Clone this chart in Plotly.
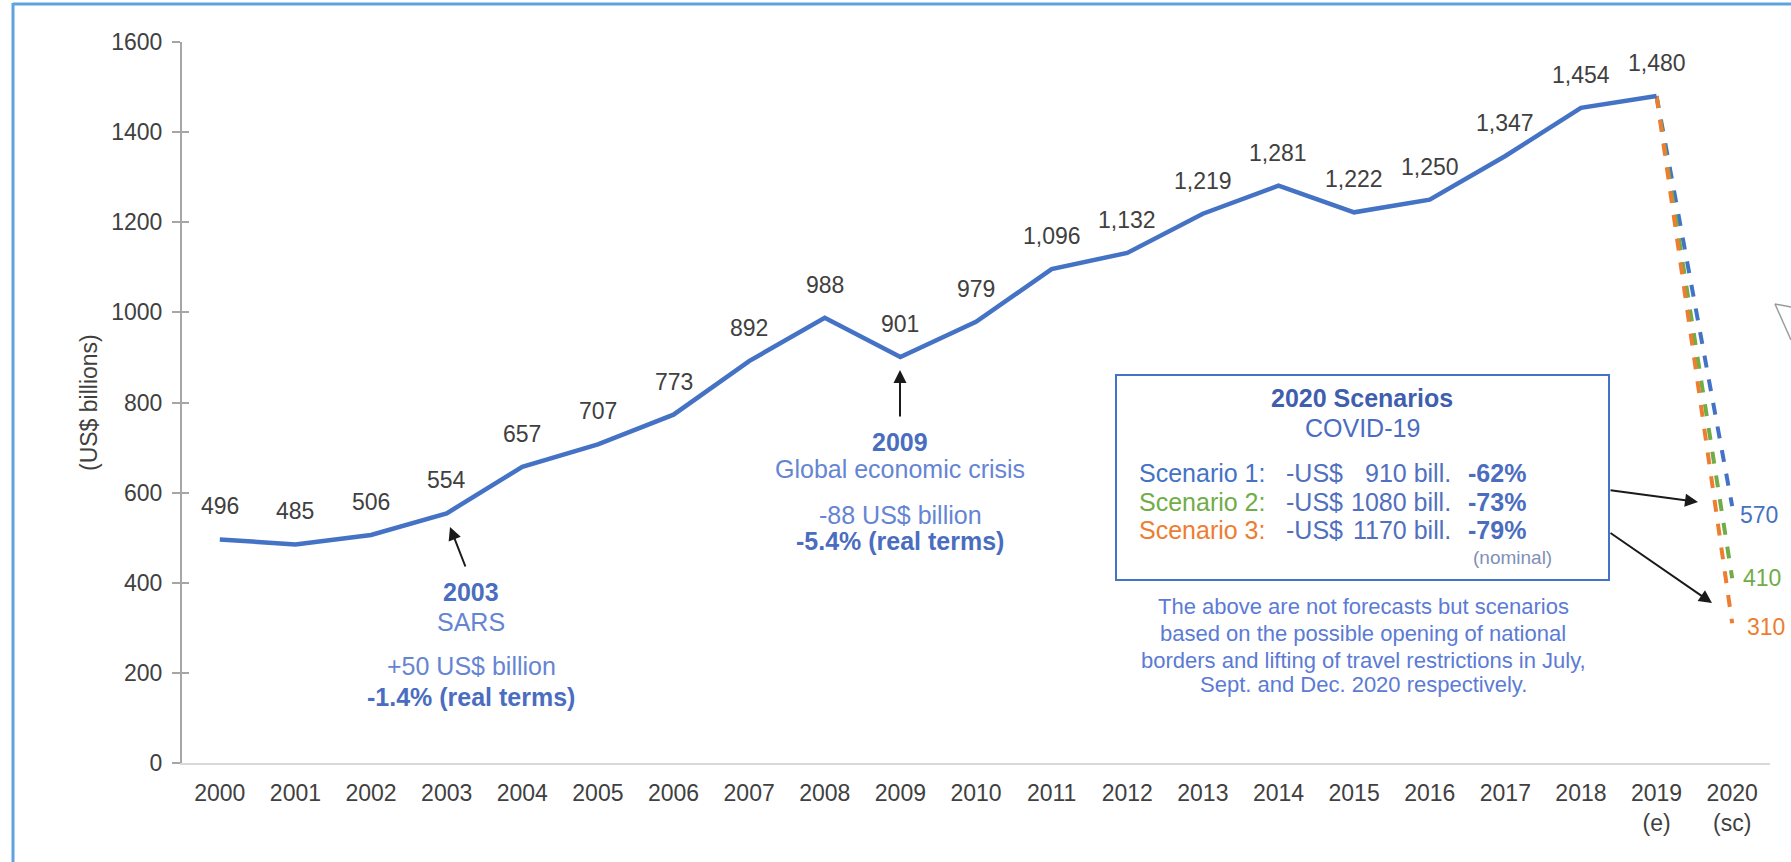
import plotly.graph_objects as go

# ---------------- data ----------------
years = list(range(2000, 2020))
values = [496, 485, 506, 554, 657, 707, 773, 892, 988, 901, 979, 1096, 1132, 1219, 1281, 1222, 1250, 1347, 1454, 1480]
scenario_year = 2020
scenario_names = ["Scenario 1:", "Scenario 2:", "Scenario 3:"]
scenario_values = [570, 410, 310]
scenario_loss = ["910 bill.", "1080 bill.", "1170 bill."]
scenario_pct = ["-62%", "-73%", "-79%"]
tick_years = list(range(2000, 2021))
tick_labels = [str(y) for y in range(2000, 2019)] + ["2019<br>(e)", "2020<br>(sc)"]
y_ticks = [0, 200, 400, 600, 800, 1000, 1200, 1400, 1600]

# ---------------- geometry helpers ----------------
W, H = 1791, 862
L, R, T, B = 182, 1770, 42, 763
XMIN, XMAX = 1999.5, 2020.5
YMIN, YMAX = 0, 1600


def dx(px):
    return XMIN + (px - L) / (R - L) * (XMAX - XMIN)


def dy(py):
    return YMIN + (B - py) / (B - T) * (YMAX - YMIN)


def fx(px):
    return (px - L) / (R - L)


def fy(py):
    return (B - py) / (B - T)


FONT = "Liberation Sans, Arial, sans-serif"
BLUE = "#4472C4"
GREEN = "#70AD47"
ORANGE = "#ED7D31"
GREY_TXT = "#404040"
LIGHT_BLUE_TXT = "#6585D3"

fig = go.Figure()

# dashed scenario lines
for val, col in zip(scenario_values, [BLUE, GREEN, ORANGE]):
    fig.add_trace(go.Scatter(x=[years[-1], scenario_year], y=[values[-1], val], mode="lines",
                             line=dict(color=col, width=4, dash="dash"), hoverinfo="skip"))

# main line
fig.add_trace(go.Scatter(x=years, y=values, mode="lines", line=dict(color=BLUE, width=4.5),
                         hoverinfo="skip"))

ann = []
# data labels
for x, v in zip(years, values):
    ann.append(dict(x=x, y=v, text=f"{v:,}", showarrow=False, yshift=33,
                    font=dict(family=FONT, size=23, color=GREY_TXT)))

# scenario end labels
end_xshift = [6, 9, 13]
end_yshift = [-9, 0, -4]
for v, col, xs, ys in zip(scenario_values, [BLUE, GREEN, ORANGE], end_xshift, end_yshift):
    ann.append(dict(x=scenario_year, y=v, text=str(v), showarrow=False, xanchor="left",
                    xshift=xs, yshift=ys, font=dict(family=FONT, size=23, color=col)))


def txt(px, py, text, size=25, color=BLUE, xanchor="center"):
    ann.append(dict(x=dx(px), y=dy(py), text=text, showarrow=False, xanchor=xanchor,
                    yanchor="middle", font=dict(family=FONT, size=size, color=color)))


def arrow(tipx, tipy, tailx, taily):
    ann.append(dict(x=dx(tipx), y=dy(tipy), ax=tailx - tipx, ay=taily - tipy, text="",
                    showarrow=True, arrowhead=2, arrowsize=1.3, arrowwidth=2,
                    arrowcolor="#1a1a1a"))


# SARS annotation
arrow(450, 527, 466, 568)
txt(471, 592, "<b>2003</b>", color="#4A6DC0")
txt(471, 622, "SARS", color=LIGHT_BLUE_TXT)
txt(471, 666, "+50 US$ billion", color=LIGHT_BLUE_TXT)
txt(471, 697, "<b>-1.4% (real terms)</b>", color="#4A6DC0")

# 2009 annotation
arrow(900, 370, 900, 418)
txt(900, 442, "<b>2009</b>", color="#4A6DC0")
txt(900, 469, "Global economic crisis", color=LIGHT_BLUE_TXT)
txt(900, 515, "-88 US$ billion", color=LIGHT_BLUE_TXT)
txt(900, 541, "<b>-5.4% (real terms)</b>", color="#4A6DC0")

# scenario box text
txt(1362, 398, "<b>2020 Scenarios</b>", color="#3F5FAE")
txt(1362, 428, "COVID-19", color="#4A6CC4")
row_y = [473, 502, 530]
for name, col, loss, pct, ry in zip(scenario_names, [BLUE, GREEN, ORANGE], scenario_loss, scenario_pct, row_y):
    txt(1137, ry, name, color=col, xanchor="left")
    txt(1284, ry, "-US$", color="#5070BE", xanchor="left")
    txt(1453, ry, loss, color="#5070BE", xanchor="right")
    txt(1466, ry, f"<b>{pct}</b>", color="#4A6DC0", xanchor="left")
txt(1512, 557, "(nominal)", size=19, color="#7F8FB8")

foot = ["The above are not forecasts but scenarios",
        "based on the possible opening of national",
        "borders and lifting of travel restrictions in July,",
        "Sept. and Dec. 2020 respectively."]
for line, fy_ in zip(foot, [606, 633, 660, 684]):
    txt(1363, fy_, line, size=22, color="#5B7BD5")

# arrows from box to scenario values
arrow(1698, 502, 1609, 490)
arrow(1712, 603, 1609, 532)

# y-axis title
ann.append(dict(xref="paper", yref="paper", x=fx(74), y=fy(402), text="(US$ billions)",
                textangle=-90, showarrow=False, font=dict(family=FONT, size=23, color=GREY_TXT)))

shapes = [
    dict(type="rect", xref="paper", yref="paper", x0=fx(1116), x1=fx(1609), y0=fy(375), y1=fy(580),
         line=dict(color=BLUE, width=2), fillcolor="rgba(0,0,0,0)"),
    # outer frame (left and top)
    dict(type="line", xref="paper", yref="paper", x0=fx(13), x1=fx(13), y0=fy(3), y1=fy(862),
         line=dict(color="#5DA3E0", width=3)),
    dict(type="line", xref="paper", yref="paper", x0=fx(13), x1=fx(1791), y0=fy(4), y1=fy(4),
         line=dict(color="#5DA3E0", width=3)),
    # partial grey callout edge at right
    dict(type="line", xref="paper", yref="paper", x0=fx(1775), x1=fx(1791), y0=fy(304), y1=fy(307),
         line=dict(color="#9a9a9a", width=1.5)),
    dict(type="line", xref="paper", yref="paper", x0=fx(1775), x1=fx(1791), y0=fy(304), y1=fy(340),
         line=dict(color="#9a9a9a", width=1.5)),
]

fig.update_layout(
    width=W, height=H,
    margin=dict(l=L, r=W - R, t=T, b=H - B, autoexpand=False),
    paper_bgcolor="white", plot_bgcolor="white",
    showlegend=False,
    annotations=ann, shapes=shapes,
    xaxis=dict(range=[XMIN, XMAX], tickmode="array", tickvals=tick_years, ticktext=tick_labels,
               showgrid=False, zeroline=False, showline=True, linecolor="#D9D9D9", linewidth=2,
               ticks="", ticklabelstandoff=8,
               tickfont=dict(family=FONT, size=23, color=GREY_TXT), fixedrange=True),
    yaxis=dict(range=[YMIN, YMAX], tickmode="array", tickvals=y_ticks, showgrid=False,
               zeroline=False, showline=True, linecolor="#A6A6A6", linewidth=2,
               ticks="outside", ticklen=8, tickcolor="#A6A6A6", tickwidth=2, ticklabelstandoff=5,
               tickfont=dict(family=FONT, size=23, color=GREY_TXT), fixedrange=True),
    yaxis2=dict(range=[YMIN, YMAX], overlaying="y", side="left", tickmode="array",
                tickvals=y_ticks, showticklabels=False, showgrid=False, zeroline=False,
                ticks="inside", ticklen=7, tickcolor="#A6A6A6", tickwidth=2, showline=False,
                fixedrange=True),
)
fig.add_trace(go.Scatter(x=[None], y=[None], yaxis="y2", hoverinfo="skip"))

fig.write_html("out.html", config={"staticPlot": True, "displayModeBar": False},
               post_script="document.body.style.margin='0';document.body.style.overflow='hidden';")
